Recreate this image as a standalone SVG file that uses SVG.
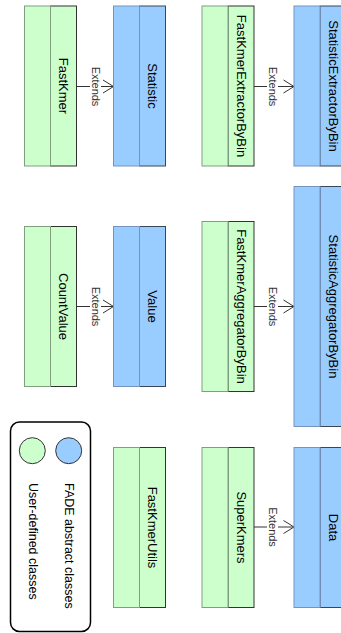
<svg xmlns="http://www.w3.org/2000/svg" width="341" height="633" viewBox="0 0 341 633">
<style>
.gb{fill:#ccffcc;stroke:#7f9f7f;stroke-width:1}
.gh{fill:#ccffcc;stroke:#333;stroke-width:1}
.bb{fill:#99ccff;stroke:#7494bf;stroke-width:1}
.bh{fill:#99ccff;stroke:#3a4656;stroke-width:1}
.dg{stroke:#6f8f6f;stroke-width:1}
.db{stroke:#5f7a9f;stroke-width:1}
.lbl{font-family:"Liberation Sans",Arial,sans-serif;font-size:13px;fill:#000;text-anchor:middle;dominant-baseline:central}
.ext{font-family:"Liberation Sans",Arial,sans-serif;font-size:11px;fill:#333;text-anchor:middle;dominant-baseline:central}
.leg{font-family:"Liberation Sans",Arial,sans-serif;font-size:12.5px;fill:#000;dominant-baseline:central}
.line{stroke:#333;stroke-width:1;fill:none}
</style>
<g id="connectors">
  <g><line class="line" x1="76.5" y1="86.5" x2="113.5" y2="86.5"/><path class="line" d="M103 80 L113.5 86.5 L103 93"/><rect x="90" y="66" width="11" height="41" fill="#fff"/><text class="ext" transform="translate(95.5,86.5) rotate(90)">Extends</text></g>
  <g><line class="line" x1="254" y1="86.5" x2="294" y2="86.5"/><path class="line" d="M283.5 80 L294 86.5 L283.5 93"/><rect x="267" y="66" width="11" height="41" fill="#fff"/><text class="ext" transform="translate(272.5,86.5) rotate(90)">Extends</text></g>
  <g><line class="line" x1="76.5" y1="306.5" x2="113.5" y2="306.5"/><path class="line" d="M103 300 L113.5 306.5 L103 313"/><rect x="90" y="286" width="11" height="41" fill="#fff"/><text class="ext" transform="translate(95.5,306.5) rotate(90)">Extends</text></g>
  <g><line class="line" x1="254" y1="306.5" x2="294" y2="306.5"/><path class="line" d="M283.5 300 L294 306.5 L283.5 313"/><rect x="267" y="286" width="11" height="41" fill="#fff"/><text class="ext" transform="translate(272.5,306.5) rotate(90)">Extends</text></g>
  <g><line class="line" x1="254" y1="527" x2="294" y2="527"/><path class="line" d="M283.5 520.5 L294 527 L283.5 533.5"/><rect x="267" y="506.5" width="11" height="41" fill="#fff"/><text class="ext" transform="translate(272.5,527) rotate(90)">Extends</text></g>
</g>
<g id="FastKmer"><rect class="gh" x="50.5" y="6" width="26" height="160"/><rect class="gb" x="24.5" y="6" width="26" height="160"/><text class="lbl" transform="translate(63.5,86) rotate(90)">FastKmer</text></g>
<g id="Statistic"><rect class="bh" x="139.5" y="6" width="26" height="160"/><rect class="bb" x="113.5" y="6" width="26" height="160"/><text class="lbl" transform="translate(152.5,86) rotate(90)">Statistic</text></g>
<g id="FastKmerExtractorByBin"><rect class="gh" x="228" y="6" width="26" height="160"/><rect class="gb" x="202" y="6" width="26" height="160"/><text class="lbl" transform="translate(241,86) rotate(90)">FastKmerExtractorByBin</text></g>
<g id="StatisticExtractorByBin"><rect class="bh" x="320" y="6" width="26" height="160"/><rect class="bb" x="294" y="6" width="26" height="160"/><text class="lbl" transform="translate(333,86) rotate(90)">StatisticExtractorByBin</text></g>
<g id="CountValue"><rect class="gh" x="50.5" y="226.5" width="26" height="160"/><rect class="gb" x="24.5" y="226.5" width="26" height="160"/><text class="lbl" transform="translate(63.5,306.5) rotate(90)">CountValue</text></g>
<g id="Value"><rect class="bh" x="139.5" y="226.5" width="26" height="160"/><rect class="bb" x="113.5" y="226.5" width="26" height="160"/><text class="lbl" transform="translate(152.5,306.5) rotate(90)">Value</text></g>
<g id="FastKmerAggregatorByBin"><rect class="gh" x="228" y="221.5" width="26" height="170"/><rect class="gb" x="202" y="221.5" width="26" height="170"/><text class="lbl" transform="translate(241,306.5) rotate(90)">FastKmerAggregatorByBin</text></g>
<g id="StatisticAggregatorByBin"><rect class="bh" x="320" y="186.5" width="26" height="240"/><rect class="bb" x="294" y="186.5" width="26" height="240"/><text class="lbl" transform="translate(333,306.5) rotate(90)">StatisticAggregatorByBin</text></g>
<g id="FastKmerUtils"><rect class="gh" x="139.5" y="447.5" width="26" height="160"/><rect class="gb" x="113.5" y="447.5" width="26" height="160"/><text class="lbl" transform="translate(152.5,527.5) rotate(90)">FastKmerUtils</text></g>
<g id="SuperKmers"><rect class="gh" x="228" y="447.5" width="26" height="160"/><rect class="gb" x="202" y="447.5" width="26" height="160"/><text class="lbl" transform="translate(241,527.5) rotate(90)">SuperKmers</text></g>
<g id="Data"><rect class="bh" x="320" y="447.5" width="26" height="160"/><rect class="bb" x="294" y="447.5" width="26" height="160"/><text class="lbl" transform="translate(333,527.5) rotate(90)">Data</text></g>
<g id="legend">
  <rect x="10.5" y="422" width="80" height="209.5" rx="9" fill="#fff" stroke="#000" stroke-width="1.5"/>
  <circle cx="32.3" cy="450.7" r="13" fill="#ccffcc" stroke="#333" stroke-width="1"/>
  <circle cx="68.7" cy="450.7" r="13" fill="#99ccff" stroke="#333" stroke-width="1"/>
  <text class="leg" transform="translate(68.5,483) rotate(90)">FADE abstract classes</text>
  <text class="leg" transform="translate(32.5,483) rotate(90)">User-defined classes</text>
</g>
</svg>
